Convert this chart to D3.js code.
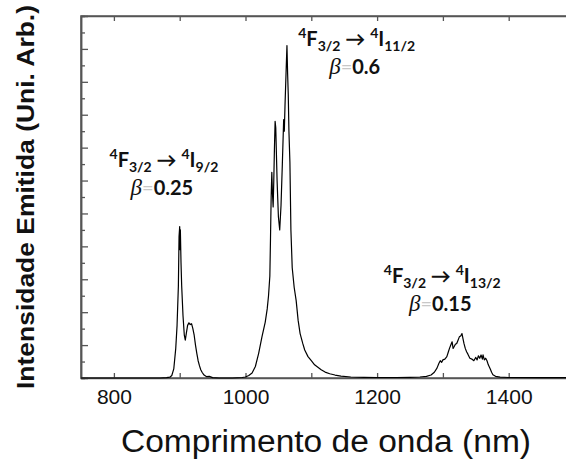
<!DOCTYPE html>
<html>
<head>
<meta charset="utf-8">
<script src="https://cdn.jsdelivr.net/npm/d3@7"></script>
<style>
  body { margin: 0; background: #fff; }
  svg { display: block; }
</style>
</head>
<body>
<svg id="chart"></svg>
<script>
// spectrum: wavelength (nm) and emitted intensity (arb. units)
var wavelengths = [750, 800, 850, 870, 880, 885, 888, 891, 894, 896, 898, 899, 900, 900.5, 901, 902, 903, 905, 907, 908.5,
  910, 912, 914, 916, 918, 920, 922, 924, 926, 928, 930, 932, 934, 937, 941, 945, 950, 960, 980, 995,
  1000, 1005, 1010, 1015, 1020, 1025, 1030, 1033, 1035, 1037, 1038, 1039, 1040, 1041, 1042, 1043, 1044, 1045, 1046, 1047,
  1048, 1050, 1052, 1054, 1056, 1058, 1059, 1060, 1062, 1063, 1064, 1065, 1066, 1067.5, 1069, 1071, 1074, 1077, 1080, 1083,
  1087, 1090, 1095, 1100, 1105, 1110, 1115, 1121, 1128, 1136, 1145, 1160, 1180, 1200, 1230, 1250, 1265, 1275, 1282, 1287,
  1291, 1294, 1296, 1298, 1300, 1303, 1306, 1308, 1310, 1312, 1314, 1315.5, 1317, 1319, 1321, 1323, 1325, 1327, 1329, 1330.5,
  1332, 1334, 1336, 1338, 1341, 1344, 1347, 1350, 1352, 1354, 1356, 1358, 1360, 1361, 1363, 1365, 1367, 1369, 1372, 1374,
  1376, 1380, 1387, 1400, 1450, 1500];
var intensity = [0, 0, 0, 0, 0.02, 0.05, 0.15, 0.55, 1.8, 3.2, 5.6, 8.6, 9.2, 7.8, 9.0, 7.0, 5.6, 3.8, 2.6, 2.3,
  2.7, 3.2, 3.35, 3.25, 3.3, 3.0, 2.6, 2.0, 1.5, 1.05, 0.75, 0.5, 0.35, 0.18, 0.08, 0.1, 0.02, 0, 0, 0.03,
  0.06, 0.15, 0.3, 0.7, 1.5, 2.5, 3.4, 4.2, 5.0, 6.2, 8.5, 11.0, 12.5, 11.2, 10.4, 12.0, 14.0, 15.6, 15.2, 13.6,
  12.0, 9.8, 9.0, 10.5, 13.0, 15.7, 15.0, 16.5, 19.0, 20.2, 18.5, 17.2, 15.0, 13.1, 9.0, 6.7, 5.5, 4.7, 3.5, 2.7,
  2.1, 1.7, 1.3, 1.05, 0.8, 0.65, 0.5, 0.36, 0.26, 0.18, 0.11, 0.06, 0.04, 0.03, 0.03, 0.04, 0.06, 0.1, 0.18, 0.35,
  0.6, 0.9, 1.05, 0.95, 1.1, 1.15, 1.3, 1.55, 1.8, 2.0, 2.2, 1.8, 1.9, 2.05, 2.1, 2.3, 2.5, 2.55, 2.7, 2.4,
  2.1, 1.8, 1.6, 1.45, 1.2, 1.15, 1.05, 1.25, 1.1, 1.35, 1.2, 1.4, 1.15, 1.4, 1.1, 1.2, 1.05, 0.8, 0.55, 0.35,
  0.2, 0.1, 0.05, 0.03, 0.02, 0.02];

var xTickLabels = [800, 1000, 1200, 1400];
var xMinorTicks = [800, 900, 1000, 1100, 1200, 1300, 1400];

// transitions: lower level subscript, branching ratio, where the label sits
var transitionLower = ["9/2", "11/2", "13/2"];
var branchingRatio = ["0.25", "0.6", "0.15"];
var labelAtNm = [876, 1169, 1299];
var labelAtI = [12.8, 20.2, 5.8];

var width = 566, height = 462;
var svg = d3.select("#chart").attr("width", width).attr("height", height);

var x = d3.scaleLinear().domain([750, 1500]).range([81, 574.5]);
var y = d3.scaleLinear().domain([0, 22]).range([378, 16]);

var frameColor = "#555";

// left ticks, long on even units, short on odd
var yEven = d3.range(2, 22, 2), yOdd = d3.range(1, 22, 2);
svg.append("g").attr("transform", "translate(" + x(750) + ",0)")
  .call(d3.axisRight(y).tickValues(yEven).tickSize(7).tickFormat(""));
svg.append("g").attr("transform", "translate(" + x(750) + ",0)")
  .call(d3.axisRight(y).tickValues(yOdd).tickSize(4).tickFormat(""));

// bottom axis: ticks inward, labels below
var bottom = svg.append("g").attr("transform", "translate(0," + y(0) + ")")
  .call(d3.axisBottom(x).tickValues(xMinorTicks).tickSizeInner(-5).tickSizeOuter(0).tickPadding(11)
    .tickFormat(function(d) { return xTickLabels.indexOf(d) >= 0 ? d : ""; }));
bottom.selectAll("text").style("font-family", "'Liberation Sans', Arial, sans-serif")
  .style("font-size", "21px").attr("fill", "#111");

// top ticks
svg.append("g").attr("transform", "translate(0," + y(22) + ")")
  .call(d3.axisBottom(x).tickValues(xMinorTicks).tickSize(5).tickSizeOuter(0).tickFormat(""));

svg.selectAll(".domain").attr("stroke", frameColor).attr("stroke-width", 1.5);
svg.selectAll(".tick line").attr("stroke", frameColor).attr("stroke-width", 1.3);

// frame
svg.append("path")
  .attr("d", "M" + x(1500) + "," + y(22) + "H" + x(750) + "V" + y(0) + "H" + x(1500))
  .attr("fill", "none").attr("stroke", frameColor).attr("stroke-width", 1.5);

// spectrum
var line = d3.line()
  .x(function(d, i) { return x(wavelengths[i]); })
  .y(function(d) { return y(d); });
svg.append("path")
  .datum(intensity)
  .attr("d", line)
  .attr("fill", "none")
  .attr("stroke", "#000")
  .attr("stroke-width", 1.2)
  .attr("stroke-linejoin", "round");

// transition labels
var labelFont = "Lato, 'Open Sans', sans-serif";
transitionLower.forEach(function(sub, i) {
  var cx = x(labelAtNm[i]), by = y(labelAtI[i]);
  var t = svg.append("text").attr("x", cx).attr("y", by)
    .attr("text-anchor", "middle")
    .style("font-family", labelFont).style("font-weight", "bold").style("font-size", "20px").attr("fill", "#111");
  t.append("tspan").attr("dy", -8).style("font-size", "14px").text("4");
  t.append("tspan").attr("dy", 8).text("F");
  t.append("tspan").attr("dy", 5).style("font-size", "14px").text("3/2");
  t.append("tspan").attr("dy", -5).text(" \u2192 ");
  t.append("tspan").attr("dy", -8).style("font-size", "14px").text("4");
  t.append("tspan").attr("dy", 8).text("I");
  t.append("tspan").attr("dy", 5).style("font-size", "14px").text(sub);

  var b = svg.append("text").attr("x", cx - 2).attr("y", by + 28)
    .attr("text-anchor", "middle")
    .style("font-family", labelFont).style("font-weight", "bold").style("font-size", "20px").attr("fill", "#111");
  b.append("tspan").style("font-family", "'Liberation Serif', 'DejaVu Serif', serif")
    .style("font-style", "italic").style("font-weight", "normal").style("font-size", "23px").text("\u03B2");
  b.append("tspan").attr("fill", "#c8c8c8").style("font-weight", "normal").text("=");
  b.append("tspan").text(branchingRatio[i]);
});

// axis titles
svg.append("text")
  .attr("x", 326).attr("y", 452)
  .attr("text-anchor", "middle")
  .attr("textLength", 410).attr("lengthAdjust", "spacingAndGlyphs")
  .style("font-family", "'Liberation Sans', Arial, sans-serif").style("font-size", "31px").attr("fill", "#111")
  .text("Comprimento de onda (nm)");

svg.append("text")
  .attr("transform", "translate(34,197) rotate(-90)")
  .attr("text-anchor", "middle")
  .attr("textLength", 384).attr("lengthAdjust", "spacingAndGlyphs")
  .style("font-family", "'Liberation Sans', Arial, sans-serif").style("font-weight", "bold").style("font-size", "24px").attr("fill", "#111")
  .text("Intensidade Emitida (Uni. Arb.)");
</script>
</body>
</html>
